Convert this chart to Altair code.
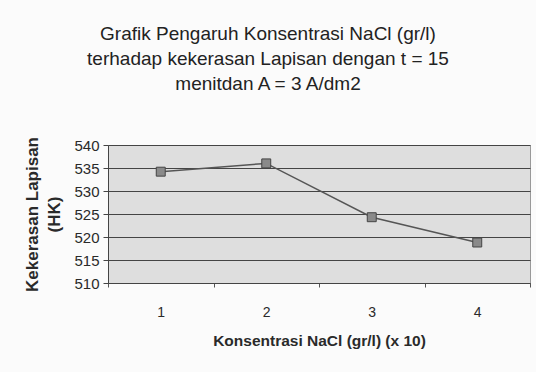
import altair as alt
import pandas as pd

categories = ["1", "2", "3", "4"]
hardness = [534.2, 536.0, 524.3, 518.8]

df = pd.DataFrame({"konsentrasi": categories, "kekerasan": hardness})

FONT = "Liberation Sans"

base = alt.Chart(df).encode(
    x=alt.X("konsentrasi:N", sort=categories,
            scale=alt.Scale(paddingInner=0, paddingOuter=0),
            axis=alt.Axis(title="Konsentrasi NaCl (gr/l) (x 10)", labelAngle=0,
                          labelFontSize=14, labelColor="#2a2a2a", labelPadding=18,
                          titleFontSize=15.5, titleFontWeight="bold", titleColor="#2a2a2a",
                          titlePadding=14, tickBand="extent", tickSize=4,
                          tickColor="#555555", domainColor="#444444", grid=False)),
    y=alt.Y("kekerasan:Q",
            scale=alt.Scale(domain=[510, 540], nice=False, zero=False),
            axis=alt.Axis(title=["Kekerasan Lapisan", "(HK)"], values=[510, 515, 520, 525, 530, 535, 540],
                          labelFontSize=15, labelColor="#2a2a2a", labelPadding=4,
                          titleFontSize=17, titleFontWeight="bold", titleColor="#2a2a2a",
                          titlePadding=10, titleLineHeight=22,
                          tickSize=5, tickColor="#444444", domainColor="#444444",
                          gridColor="#444444", gridWidth=1.2)),
)

line = base.mark_line(color="#555555", strokeWidth=1.5)
pts = base.mark_point(shape="square", size=80, filled=True, fill="#8a8a8a",
                      stroke="#444444", strokeWidth=1, opacity=1)

chart = (line + pts).properties(
    width=422, height=138,
    padding={"left": 108, "top": 145, "right": 6, "bottom": 89},
    autosize=alt.AutoSizeParams(type="none"),
    background="#fbfbfb",
    title=alt.TitleParams(
        text=["Grafik Pengaruh Konsentrasi NaCl (gr/l)",
              "terhadap kekerasan Lapisan dengan t = 15",
              "menitdan A = 3 A/dm2"],
        fontSize=19, font=FONT, fontWeight="normal", color="#222222",
        lineHeight=25, anchor="middle", dx=-51, offset=43,
    ),
).configure(font=FONT).configure_view(fill="#dedede", stroke="#999999")

chart.save("out.html", embed_options={"renderer": "svg", "actions": False})
